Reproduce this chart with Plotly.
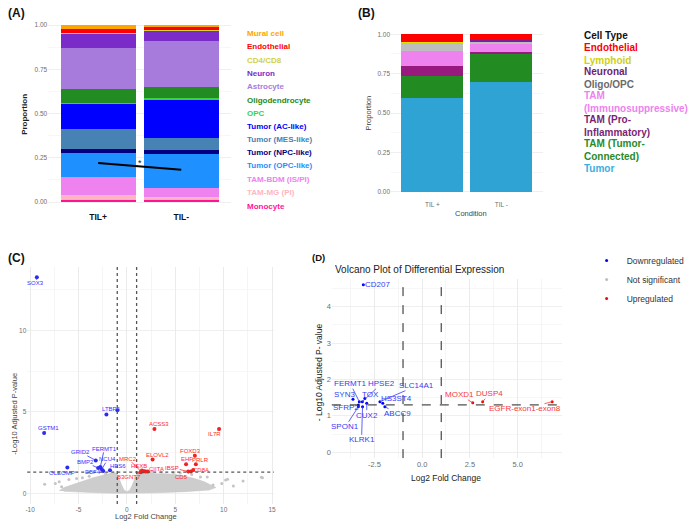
import math
import plotly.graph_objects as go

W, H = 700, 525
FONT = "Liberation Sans, Arial, sans-serif"
GRID = "#EBEBEB"
MINOR = "#F5F5F5"
TICKC = "#6E6E6E"

# ---------------- Panel A data ----------------
a_conditions = ["TIL+", "TIL-"]
a_celltypes = ["Monocyte", "TAM-MG (PI)", "TAM-BDM (IS/PI)", "Tumor (OPC-like)", "Tumor (NPC-like)",
               "Tumor (MES-like)", "Tumor (AC-like)", "OPC", "Oligodendrocyte", "Astrocyte", "Neuron",
               "CD4/CD8", "Endothelial", "Mural cell"]
a_til_pos = [0.013, 0.025, 0.102, 0.137, 0.021, 0.112, 0.143, 0.007, 0.076, 0.232, 0.079, 0.006, 0.024, 0.023]
a_til_neg = [0.009, 0.019, 0.053, 0.189, 0.026, 0.064, 0.215, 0.015, 0.061, 0.260, 0.057, 0.004, 0.018, 0.010]
a_colors = ["#FF1493", "#FFB6C1", "#EE82EE", "#1E90FF", "#000080", "#4682B4", "#0000FF", "#3CD23C",
            "#228B22", "#A77BDB", "#7B2CC8", "#D2D23A", "#FF0000", "#FFA500"]
a_sig_y = [0.221, 0.183]

# ---------------- Panel B data ----------------
b_conditions = ["TIL +", "TIL -"]
b_celltypes = ["Tumor", "TAM (Tumor-Connected)", "TAM (Pro-Inflammatory)", "TAM (Immunosuppressive)",
               "Oligo/OPC", "Neuronal", "Lymphoid", "Endothelial"]
b_til_pos = [0.597, 0.140, 0.060, 0.099, 0.047, 0.004, 0.002, 0.051]
b_til_neg = [0.697, 0.180, 0.009, 0.055, 0.010, 0.013, 0.002, 0.034]
b_colors = ["#2EA3D4", "#228B22", "#991A7E", "#EE82EE", "#BEBEBE", "#7A1F9E", "#E0E000", "#FF0000"]
b_legend_labels = ["Endothelial", "Lymphoid", "Neuronal", "Oligo/OPC", "TAM<br>(Immunosuppressive)",
                   "TAM (Pro-<br>Inflammatory)", "TAM (Tumor-<br>Connected)", "Tumor"]
b_legend_colors = ["#FF0000", "#CFCF10", "#6E1E70", "#6A6A6A", "#EE82EE", "#7B1F72", "#2A8A2A", "#3AAEE0"]

# ---------------- Panel C data ----------------
c_down_genes = ["SOX3", "GSTM1", "LTBP4", "OLEOMP", "GRID2", "FERMT1", "BMP2", "NCU4", "EBF4", "HES6"]
c_down_lfc = [-9.31, -8.56, -2.12, -6.16, -3.22, -2.75, -2.98, -2.60, -2.45, -1.75]
c_down_lp = [13.27, 3.70, 4.84, 1.58, 2.02, 1.62, 1.55, 1.48, 1.36, 1.42]
c_down_extra_lfc = [-0.99]
c_down_extra_lp = [5.10]
c_up_genes = ["ACSS3", "IL7R", "ELOVL2", "FOXD3", "EHF", "PRLR", "MRC2", "HEXB", "B3GNT7", "CIITA",
              "IBSP", "CD5", "CD8A"]
c_up_lfc = [2.84, 9.52, 2.65, 7.02, 6.11, 7.12, 1.47, 1.64, 1.40, 2.16, 6.33, 6.61, 6.85]
c_up_lp = [3.95, 3.95, 2.07, 2.31, 1.78, 1.78, 1.33, 1.33, 1.29, 1.33, 1.33, 1.33, 1.43]
c_up_extra_lfc = [1.55, 1.80, 1.95]
c_up_extra_lp = [1.40, 1.35, 1.33]
# dense non-significant cloud outline (log2FC, -log10 padj)
c_cloud_lfc = [-7.0, -6.5, -5.5, -4.5, -3.5, -2.5, -1.6, -1.1, -0.8, -0.55, -0.3, 0.0, 0.3, 0.55, 0.8, 1.1,
               2.0, 3.0, 4.0, 5.0, 6.0, 7.0, 8.0, 8.8, 9.2, 8.5, 6.0, 3.0, 1.0, -1.0, -3.0, -5.0, -6.5]
c_cloud_lp = [0.15, 0.35, 0.55, 0.75, 0.95, 1.10, 1.25, 1.25, 0.90, 0.50, 0.20, 0.10, 0.20, 0.50, 0.90, 1.30,
              1.30, 1.20, 1.20, 1.15, 1.05, 0.90, 0.70, 0.50, 0.35, 0.20, 0.10, 0.03, 0.00, 0.00, 0.03, 0.10, 0.12]
# scattered non-significant genes
c_ns_lfc = [-8.5, -7.4, -6.75, -7.0, -6.0, -5.2, -4.6, -3.9, -2.2, 2.6, 3.6, 4.8, 5.5, 8.3, 8.9, 9.8,
            10.4, 10.2, 11.0, 12.0, 13.9, 14.0, 7.6, 6.7]
c_ns_lp = [0.55, 0.60, 0.40, 0.70, 0.85, 0.90, 0.95, 1.05, 1.20, 1.35, 1.30, 1.28, 1.25, 1.00, 0.50, 0.60,
           0.86, 0.82, 0.45, 0.75, 0.98, 0.96, 1.00, 1.15]

# ---------------- Panel D data ----------------
d_down_genes = ["CD207", "FERMT1", "HPSE2", "SYN3", "TOX", "SLC14A1", "HS3ST4", "SFRP2", "CUX2", "ABCC9",
                "SPON1", "KLRK1"]
d_down_lfc = [-3.08, -3.29, -3.13, -3.62, -3.00, -2.21, -2.06, -3.34, -2.90, -1.95, -3.34, -3.12]
d_down_lp = [4.60, 1.39, 1.39, 1.46, 1.48, 1.39, 1.35, 1.30, 1.35, 1.25, 1.25, 1.25]
d_up_genes = ["MOXD1", "DUSP4", "EGFR-exon1-exon8"]
d_up_lfc = [2.65, 3.17, 6.81]
d_up_lp = [1.36, 1.39, 1.39]

# x-axis tick labels of the two volcano plots
c_xtick_labels = ["-10", "-5", "0", "5", "10", "15"]
d_xtick_labels = ["-2.5", "0.0", "2.5", "5.0"]

FC_THRESH = 1.0
P_THRESH = 0.05

# label offsets (pixels, label centre relative to point)
c_down_off = [(-1, 6), (4, -5), (5, -5), (-5, 5), (-15, -8), (4, -18), (-13, -6), (6, -10), (-10, 1), (8, -4)]
c_up_off = [(5, -5), (-5, 5), (5, -5), (-4, -5), (1, -5), (5, -4), (-13, -13), (-4, -6), (-11, 5), (9, -3),
            (-16, -4), (-9, 5), (8, 0)]
d_down_off = [(14, 0), (-9, -18), (19, -18), (-8, -5), (6, -4), (37, -16), (14, -5), (-12, 3), (0, 12),
              (13, 7), (-13, 20), (-1, 33)]
d_up_off = [(-13, -8), (7, -8), (-27, 7)]

p_line = -math.log10(P_THRESH)
c_xticks = [float(t) for t in c_xtick_labels]
d_xticks = [float(t) for t in d_xtick_labels]

fig = go.Figure()

# ---- A bars
for ct, col, p, n in zip(a_celltypes, a_colors, a_til_pos, a_til_neg):
    fig.add_trace(go.Bar(x=a_conditions, y=[p, n], name=ct, width=0.9,
                         marker=dict(color=col, line=dict(width=0)),
                         xaxis="x", yaxis="y", showlegend=False))
fig.add_trace(go.Scatter(x=a_conditions, y=a_sig_y, mode="lines", line=dict(color="black", width=2),
                         xaxis="x", yaxis="y", showlegend=False, hoverinfo="skip"))

# ---- B bars
for ct, col, p, n in zip(b_celltypes, b_colors, b_til_pos, b_til_neg):
    fig.add_trace(go.Bar(x=b_conditions, y=[p, n], name=ct, width=0.9,
                         marker=dict(color=col, line=dict(width=0)),
                         xaxis="x2", yaxis="y2", showlegend=False))

# ---- C volcano
fig.add_trace(go.Scatter(x=c_cloud_lfc, y=c_cloud_lp, mode="lines", fill="toself", fillcolor="#CDCDCD",
                         line=dict(width=0.5, color="#C4C4C4"), xaxis="x3", yaxis="y3", showlegend=False,
                         hoverinfo="skip"))
fig.add_trace(go.Scatter(x=c_ns_lfc, y=c_ns_lp, mode="markers", marker=dict(color="#C4C4C4", size=3),
                         xaxis="x3", yaxis="y3", showlegend=False))
fig.add_trace(go.Scatter(x=c_down_lfc + c_down_extra_lfc, y=c_down_lp + c_down_extra_lp, mode="markers",
                         marker=dict(color="#2B2BF0", size=4), xaxis="x3", yaxis="y3", showlegend=False))
fig.add_trace(go.Scatter(x=c_up_lfc + c_up_extra_lfc, y=c_up_lp + c_up_extra_lp, mode="markers",
                         marker=dict(color="#F02020", size=4), xaxis="x3", yaxis="y3", showlegend=False))

# ---- D volcano
fig.add_trace(go.Scatter(x=d_down_lfc, y=d_down_lp, mode="markers", name="Downregulated",
                         marker=dict(color="#0000FF", size=3), xaxis="x4", yaxis="y4", showlegend=True))
fig.add_trace(go.Scatter(x=[None], y=[None], mode="markers", name="Not significant",
                         marker=dict(color="#BEBEBE", size=3), xaxis="x4", yaxis="y4", showlegend=True))
fig.add_trace(go.Scatter(x=d_up_lfc, y=d_up_lp, mode="markers", name="Upregulated",
                         marker=dict(color="#FF0000", size=3), xaxis="x4", yaxis="y4", showlegend=True))


def dom_x(l, r):
    return [l / W, r / W]


def dom_y(bottom, top):
    return [1 - bottom / H, 1 - top / H]


tickfont = dict(family=FONT, size=6.5, color=TICKC)
common_y = dict(showline=False, zeroline=False, ticks="", gridcolor=GRID, gridwidth=0.8)

layout = dict(
    width=W, height=H, margin=dict(l=0, r=0, t=0, b=0),
    paper_bgcolor="white", plot_bgcolor="rgba(0,0,0,0)",
    font=dict(family=FONT), barmode="stack", bargap=0.1,
    xaxis=dict(domain=dom_x(46.5, 230.5), anchor="y", type="category", range=[-0.6, 1.6], showgrid=False,
               ticks="", zeroline=False,
               tickfont=dict(family=FONT, size=8.5, color="#111111", weight="bold")),
    yaxis=dict(domain=dom_y(210.9, 16.15), anchor="x", range=[-0.05, 1.05], tickvals=[0, 0.25, 0.5, 0.75, 1],
               tickformat=".2f", tickfont=tickfont,
               minor=dict(tickvals=[0.125, 0.375, 0.625, 0.875], showgrid=True, gridcolor=MINOR), **common_y),
    xaxis2=dict(domain=dom_x(391.3, 543.7), anchor="y2", type="category", range=[-0.6, 1.6], showgrid=False,
                ticks="", zeroline=False, tickfont=tickfont),
    yaxis2=dict(domain=dom_y(199.6, 26.4), anchor="x2", range=[-0.05, 1.05], tickvals=[0, 0.25, 0.5, 0.75, 1],
                tickformat=".2f", tickfont=tickfont,
                minor=dict(tickvals=[0.125, 0.375, 0.625, 0.875], showgrid=True, gridcolor=MINOR), **common_y),
    xaxis3=dict(domain=dom_x(25.4, 273.6), anchor="y3", range=[-10.3, 15.2], tickmode="array",
                tickvals=c_xticks, ticktext=c_xtick_labels, showticklabels=True, tickfont=tickfont,
                gridcolor=GRID, zeroline=True, zerolinecolor=GRID, zerolinewidth=1, ticks="",
                minor=dict(tickvals=[-7.5, -2.5, 2.5, 7.5, 12.5], showgrid=True, gridcolor=MINOR)),
    yaxis3=dict(domain=dom_y(504.0, 267.0), anchor="x3", range=[-0.66, 13.9], tickvals=[0, 5, 10],
                tickfont=tickfont, minor=dict(tickvals=[2.5, 7.5, 12.5], showgrid=True, gridcolor=MINOR),
                **common_y),
    xaxis4=dict(domain=dom_x(331.7, 563.3), anchor="y4", range=[-4.73, 7.33], tickmode="array",
                tickvals=d_xticks, ticktext=d_xtick_labels, showticklabels=True,
                tickfont=dict(family=FONT, size=7.5, color=TICKC), gridcolor=GRID,
                zeroline=True, zerolinecolor=GRID, zerolinewidth=1, ticks="",
                minor=dict(tickvals=[-3.75, -1.25, 1.25, 3.75, 6.25], showgrid=True, gridcolor=MINOR)),
    yaxis4=dict(domain=dom_y(458.1, 279.0), anchor="x4", range=[-0.16, 4.76], tickvals=[0, 1, 2, 3, 4],
                tickfont=dict(family=FONT, size=7.5, color=TICKC),
                minor=dict(tickvals=[0.5, 1.5, 2.5, 3.5, 4.5], showgrid=True, gridcolor=MINOR), **common_y),
    legend=dict(x=(628 - 40) / W, y=1 - 246 / H, xanchor="left", yanchor="top", traceorder="normal",
                font=dict(family=FONT, size=8.5, color="#333333"), bgcolor="rgba(0,0,0,0)",
                itemclick=False),
)
fig.update_layout(**layout)

ann = []


def paper_text(text, x, y, size, color="#222222", bold=False, angle=0, xanchor="center", yanchor="middle"):
    ann.append(dict(text=text, x=x / W, y=1 - y / H, xref="paper", yref="paper", showarrow=False,
                    textangle=angle, xanchor=xanchor, yanchor=yanchor, align="left",
                    font=dict(family=FONT, size=size, color=color, weight="bold" if bold else "normal")))


# panel labels
paper_text("(A)", 15, 13, 12, "#111111", True)
paper_text("(B)", 367, 13, 12, "#111111", True)
paper_text("(C)", 15, 258, 12, "#111111", True)
paper_text("(D)", 318.5, 257, 9.5, "#111111", True)

# axis titles
paper_text("Proportion", 23, 114, 8, "#222222", True, -90)
paper_text("Proportion", 368.5, 113, 7.5, "#444444", False, -90)
paper_text("Condition", 472, 213.5, 7.5, "#444444")
paper_text("-Log10 Adjusted P-value", 11.7, 414, 7.5, "#444444", False, -90)
paper_text("Log2 Fold Change", 145, 516, 7.5, "#444444")
paper_text("- Log10 Adjusted P- value", 319, 372, 8.5, "#222222", False, -90)
paper_text("Log2 Fold Change", 446.7, 478, 8.5, "#222222")
paper_text("Volcano Plot of Differential Expression", 332.7, 269, 10, "#222222", xanchor="left")

# A legend
a_leg_y = [33.3, 46.7, 60, 73.3, 86.7, 100, 113.3, 126.7, 139.3, 152.7, 166, 179.3, 192.7, 206]
for lab, col, yy in zip(list(reversed(a_celltypes)), list(reversed(a_colors)), a_leg_y):
    paper_text(lab, 244, yy, 8, col, True, xanchor="left")

# B legend
paper_text("Cell Type", 583, 35.7, 10, "#111111", True, xanchor="left")
b_leg_y = [47.7, 60, 72, 84, 102, 126, 150, 168]
for lab, col, yy in zip(b_legend_labels, b_legend_colors, b_leg_y):
    paper_text(lab, 583, yy, 10, col, True, xanchor="left")

# significance star (A)
ann.append(dict(text="*", x=0.5, y=sum(a_sig_y) / 2 + 0.02, xref="x", yref="y", showarrow=False,
                font=dict(family=FONT, size=9, color="#111111")))


def gene_labels(genes, xs, ys, offs, color, size, xr, yr):
    for g, x, y, (dx, dy) in zip(genes, xs, ys, offs):
        ann.append(dict(text=g, x=x, y=y, xref=xr, yref=yr, ax=dx, ay=dy, axref="pixel", ayref="pixel",
                        showarrow=True, arrowhead=0, arrowwidth=0.8, arrowcolor=color, standoff=0,
                        startstandoff=0, borderpad=0,
                        font=dict(family=FONT, size=size, color=color)))


gene_labels(c_down_genes, c_down_lfc, c_down_lp, c_down_off, "#3333FF", 6, "x3", "y3")
gene_labels(c_up_genes, c_up_lfc, c_up_lp, c_up_off, "#FF2A2A", 6, "x3", "y3")
gene_labels(d_down_genes, d_down_lfc, d_down_lp, d_down_off, "#3A3AF5", 8, "x4", "y4")
gene_labels(d_up_genes, d_up_lfc, d_up_lp, d_up_off, "#F23A3A", 8, "x4", "y4")

fig.update_layout(annotations=ann)

# threshold lines
shapes = []
for xv in (-FC_THRESH, FC_THRESH):
    shapes.append(dict(type="line", xref="x3", yref="y3 domain", x0=xv, x1=xv, y0=0, y1=1,
                       line=dict(color="#555555", width=1.3, dash="dot")))
    shapes.append(dict(type="line", xref="x4", yref="y4 domain", x0=xv, x1=xv, y0=0, y1=1,
                       line=dict(color="#222222", width=1, dash="dash")))
shapes.append(dict(type="line", xref="x3 domain", yref="y3", x0=0, x1=1, y0=p_line, y1=p_line,
                   line=dict(color="#555555", width=1.3, dash="dot")))
shapes.append(dict(type="line", xref="x4 domain", yref="y4", x0=0, x1=1, y0=p_line, y1=p_line,
                   line=dict(color="#222222", width=1, dash="dash")))
fig.update_layout(shapes=shapes)

fig.write_html("out.html", config={"staticPlot": True})
